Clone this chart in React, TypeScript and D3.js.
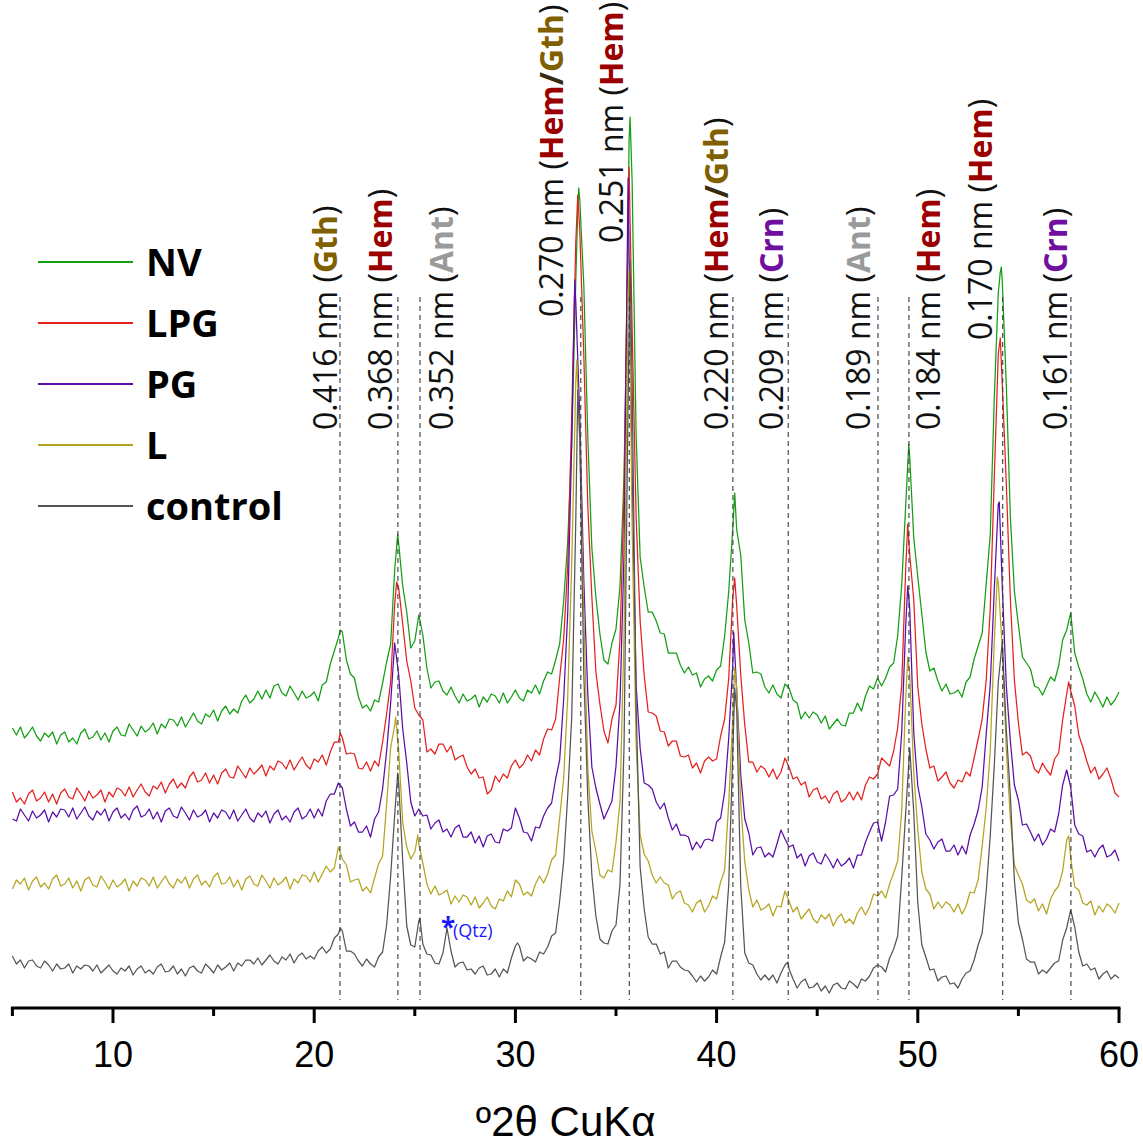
import React from "react";
import * as d3 from "d3";

const W = 1143;
const H = 1146;

// uniform 2θ grid: 5.0 … 60.0, step 0.2 (276 points)
const twoThetaStart = 5;
const twoThetaStep = 0.2;

const nvCounts = [
272,265,273,262,267,273,264,259,267,263,
268,256,265,268,258,262,256,267,271,261,
263,269,260,267,258,269,273,265,264,276,
270,264,274,268,271,277,266,276,272,281,
280,274,283,273,280,287,279,276,286,283,
290,279,289,294,286,291,287,299,305,297,
301,309,301,310,302,314,316,307,304,314,
307,300,309,302,304,308,299,315,318,336,
349,362,368,340,326,322,303,292,295,289,
300,298,317,338,356,430,456,414,388,352,
359,385,365,332,312,318,319,309,305,313,
304,297,306,299,301,305,293,303,298,306,
304,297,307,297,303,310,302,299,310,307,
315,306,319,328,326,340,356,399,458,557,
719,800,715,562,452,403,366,340,336,357,
371,414,524,757,820,565,443,413,388,388,
379,367,366,347,347,347,335,327,333,325,
327,313,321,324,319,330,334,364,408,470,
470,445,380,357,327,328,326,313,307,315,
306,302,316,312,300,297,281,288,282,288,
285,277,284,271,276,281,275,274,287,287,
297,289,304,314,311,322,314,322,333,337,
364,415,495,542,462,423,386,348,329,332,
319,309,316,306,307,310,303,318,323,341,
354,367,416,465,601,707,718,614,483,409,
375,343,337,331,314,312,305,314,323,319,
334,360,370,387,347,333,321,306,298,308,
301,293,303,295,300,308];

const lpgCounts = [
208,198,202,196,206,210,199,202,208,198,
206,196,207,211,203,201,212,206,199,209,
202,205,210,198,208,203,212,210,204,213,
203,210,216,208,204,214,211,218,207,216,
221,212,217,212,223,228,218,220,227,217,
225,216,227,231,223,222,234,228,222,232,
226,230,235,224,234,230,239,237,231,240,
230,237,243,235,231,241,238,245,235,248,
258,258,262,246,247,246,232,231,238,229,
239,234,258,286,318,396,412,376,339,319,
292,285,280,248,251,246,256,256,248,254,
240,243,245,233,226,231,222,223,206,210,
224,218,226,222,234,240,232,236,245,239,
250,245,261,271,270,281,322,361,434,584,
757,770,645,493,403,328,296,269,257,281,
295,361,507,778,674,483,379,325,288,287,
284,269,268,254,259,259,244,243,245,232,
237,227,239,243,239,241,264,281,321,401,
394,325,275,238,238,228,234,231,223,231,
221,228,242,233,221,223,215,218,203,210,
212,201,204,197,206,209,198,201,208,200,
208,200,215,223,221,226,242,238,234,249,
272,315,432,445,400,313,276,251,232,234,
219,223,228,217,212,220,218,228,224,242,
261,281,320,391,522,646,615,516,401,320,
277,245,248,244,231,227,237,230,225,241,
247,280,306,309,294,265,253,239,227,233,
221,226,232,221,207,203];

const pgCounts = [
181,179,191,185,179,189,182,185,190,178,
188,183,191,190,183,192,181,187,193,184,
180,189,185,191,179,188,192,182,186,180,
190,194,183,185,191,181,188,178,189,192,
184,182,193,187,180,190,183,185,190,178,
187,182,190,188,181,190,179,185,191,182,
178,187,183,189,177,186,190,180,184,178,
188,192,181,184,191,182,191,184,199,206,
206,217,212,191,174,178,168,168,174,163,
181,188,211,249,297,357,325,271,237,198,
184,191,184,185,171,177,180,168,171,163,
172,175,163,163,168,157,164,153,164,166,
158,157,171,169,172,192,182,168,167,159,
173,172,184,192,197,221,240,301,387,558,
699,583,419,305,233,212,196,181,190,199,
234,298,447,822,525,315,252,217,215,211,
198,191,197,182,170,176,165,165,163,150,
158,152,160,161,159,178,182,208,261,334,
308,225,181,167,145,152,153,143,147,143,
156,170,161,153,155,142,146,134,144,147,
138,136,146,140,132,141,134,137,142,132,
145,145,158,168,177,178,159,178,204,205,
211,267,375,391,267,214,193,166,160,151,
158,161,149,149,155,145,154,146,165,176,
190,213,266,315,410,496,413,314,259,215,
200,175,176,168,159,166,155,161,171,168,
186,215,230,213,175,166,164,148,150,143,
151,155,143,145,150,139];

const lCounts = [
111,120,116,122,110,119,123,113,117,111,
121,125,114,116,122,112,119,109,120,123,
115,113,124,118,111,120,113,116,121,109,
119,114,122,120,114,123,112,118,124,116,
112,121,117,123,112,121,125,115,119,113,
123,127,116,117,123,113,120,110,121,124,
116,114,125,119,112,122,115,118,123,111,
121,117,125,124,118,128,118,126,134,128,
132,153,141,135,118,120,121,109,113,107,
122,136,144,196,252,275,249,177,153,141,
148,156,137,116,106,114,105,107,110,96,
104,98,105,103,95,103,92,97,103,94,
91,101,99,109,103,120,116,105,108,104,
116,124,117,126,140,145,182,222,303,436,
618,556,387,231,169,149,125,122,130,128,
158,198,366,704,477,256,165,146,139,125,
117,123,117,115,101,107,109,97,95,88,
97,100,88,94,104,101,118,130,196,280,
312,196,138,110,93,100,90,92,96,84,
94,93,109,99,88,93,81,86,91,81,
77,85,81,86,74,82,86,77,81,76,
87,93,85,93,106,104,109,102,116,127,
139,189,302,326,227,170,128,111,106,91,
98,92,98,95,88,96,86,94,108,107,
120,154,192,249,358,418,351,250,182,135,
125,116,100,97,101,89,96,86,101,109,
114,129,160,142,113,110,97,95,99,85,
94,88,96,93,87,97];

const controlCounts = [
44,36,40,32,39,40,34,32,39,35,
29,36,31,32,36,27,34,31,35,34,
29,35,27,31,35,29,26,32,29,34,
25,31,34,27,30,26,33,36,28,29,
34,26,31,24,32,34,29,27,36,32,
27,35,30,33,37,29,37,34,40,40,
36,42,35,40,45,39,36,43,40,46,
37,44,47,41,44,41,49,53,47,51,
62,66,69,49,49,46,39,34,41,36,
33,43,48,75,124,185,217,139,74,55,
53,79,56,46,45,37,36,47,72,49,
33,37,38,30,31,26,32,34,25,26,
31,23,31,27,42,54,54,39,43,41,
38,48,46,53,64,67,99,139,204,283,
478,564,326,201,125,84,61,57,56,69,
75,116,254,597,620,296,133,91,63,56,
56,46,48,32,39,39,33,30,29,24,
18,24,19,23,30,26,43,58,114,245,
290,114,47,37,35,26,20,25,20,25,
17,27,35,31,21,12,18,21,12,13,
17,9,14,7,15,17,12,11,19,16,
12,21,19,24,32,35,33,28,42,51,
64,122,188,252,187,97,55,43,30,31,
19,23,24,16,17,12,21,27,29,40,
55,67,109,164,234,318,358,270,204,120,
77,61,41,38,38,26,30,27,32,37,
39,60,72,90,73,48,34,36,30,32,
21,26,29,21,25,22];

// finer readings at the reflection maxima [2θ, counts]
const nvPeakTops = [[21.3,370],[24.15,466],[33.1,790],[33.15,812],[35.65,860],[35.7,883],[40.9,507],[49.55,556],[54.1,728],[54.15,733]];
const lpgPeakTops = [[21.3,267],[24.1,418],[33.1,805],[35.65,833],[40.9,422],[49.5,476],[54.1,662],[57.5,318]];
const pgPeakTops = [[32.95,720],[40.85,368],[49.5,414],[54.05,498]];
const lPeakTops = [[21.25,150],[24.05,283],[25.15,165],[33.05,640],[35.65,730],[40.9,332],[49.5,343],[53.95,423],[57.5,164]];
const controlPeakTops = [[21.3,72],[24.15,227],[25.25,82],[30.1,57],[33.1,610],[35.7,740],[40.9,312],[43.55,38]];

const seriesNames = ["NV", "LPG", "PG", "L", "control"];
const seriesColors = ["#139f13", "#e3211f", "#5a0ea8", "#b3a520", "#555555"];
const seriesCounts = [nvCounts, lpgCounts, pgCounts, lCounts, controlCounts];
const seriesPeakTops = [nvPeakTops, lpgPeakTops, pgPeakTops, lPeakTops, controlPeakTops];

const xMajorTicks = [10, 20, 30, 40, 50, 60];
const xMinorTicks = [5, 15, 25, 35, 45, 55];

const reflectionD = ["0.416","0.368","0.352","0.270","0.251","0.220","0.209","0.189","0.184","0.170","0.161"];
const reflectionPhases = [["Gth"],["Hem"],["Ant"],["Hem","Gth"],["Hem"],["Hem","Gth"],["Crn"],["Ant"],["Hem"],["Hem"],["Crn"]];
const reflectionTwoTheta = [21.28,24.16,25.26,33.25,35.66,40.81,43.56,48.02,49.56,54.22,57.61];
const labelTwoTheta = [21.13,23.87,26.9,32.37,35.35,40.55,43.3,47.63,51.1,53.69,57.42];
const labelStartCounts = [570,570,570,683,757,570,570,570,570,660,570];
const phaseColors: Record<string, string> = { Gth: "#7f5f00", Hem: "#9b0000", Ant: "#9a9a9a", Crn: "#7010a0" };

const qtzTwoTheta = 26.6;

function buildSeries(counts: number[], tops: number[][]): [number, number][] {
  const pts: [number, number][] = counts.map((c, i) => [twoThetaStart + twoThetaStep * i, c]);
  tops.forEach((t) => pts.push([t[0], t[1]]));
  pts.sort((a, b) => a[0] - b[0]);
  return pts;
}

export default function App() {
  const x = d3.scaleLinear().domain([5, 60]).range([12.4, 1119]);
  const y = d3.scaleLinear().domain([0, 1000]).range([1000, 0]);
  const line = d3.line<[number, number]>().x((d) => x(d[0])).y((d) => y(d[1]));
  const axisY = 1008;

  const legendY = [262, 323, 384, 445, 506];

  return (
    <svg width={W} height={H} style={{ position: "absolute", left: 0, top: 0, background: "#fff" }}>
      <rect x={0} y={0} width={W} height={H} fill="#fff" />
      {seriesCounts.map((counts, k) => (
        <path key={seriesNames[k]} d={line(buildSeries(counts, seriesPeakTops[k])) || ""} fill="none"
          stroke={seriesColors[k]} strokeWidth={1.25} strokeLinejoin="round" />
      ))}
      {reflectionTwoTheta.map((t, i) => (
        <line key={"dl" + i} x1={x(t)} x2={x(t)} y1={y(703)} y2={y(0)} stroke="#3a3a3a" strokeWidth={1.1} strokeDasharray="5,4" />
      ))}
      {reflectionD.map((dv, i) => (
        <text key={"lb" + i} transform={`translate(${x(labelTwoTheta[i])},${y(labelStartCounts[i])}) rotate(-90)`}
          fontFamily="'Open Sans', sans-serif" fontSize={32} fill="#111">
          {`${dv} nm (`}
          {reflectionPhases[i].map((p, j) => (
            <React.Fragment key={j}>
              {j > 0 ? <tspan fontWeight="bold" fill="#3a2a10">/</tspan> : null}
              <tspan fontWeight="bold" fill={phaseColors[p]}>{p}</tspan>
            </React.Fragment>
          ))}
          {")"}
        </text>
      ))}
      <text x={x(qtzTwoTheta) - 6} y={937} fontFamily="'Open Sans', sans-serif" fontWeight="bold" fontSize={26} fill="#1a1aff">*</text>
      <text x={x(qtzTwoTheta) + 6} y={937} fontFamily="'Open Sans', sans-serif" fontSize={18} fill="#1a1aff">(Qtz)</text>

      {/* legend */}
      {seriesNames.map((n, k) => (
        <g key={"lg" + n}>
          <line x1={38} x2={133} y1={legendY[k]} y2={legendY[k]} stroke={seriesColors[k]} strokeWidth={2} />
          <text x={146} y={legendY[k] + 14} fontFamily="'Open Sans', sans-serif" fontWeight="bold" fontSize={38} fill="#000">{n}</text>
        </g>
      ))}

      {/* x axis */}
      <line x1={x(5) - 1.5} x2={x(60) + 1.5} y1={axisY} y2={axisY} stroke="#000" strokeWidth={3} />
      {xMajorTicks.map((t) => (
        <line key={"mj" + t} x1={x(t)} x2={x(t)} y1={axisY} y2={axisY + 15} stroke="#000" strokeWidth={3} />
      ))}
      {xMinorTicks.map((t) => (
        <line key={"mn" + t} x1={x(t)} x2={x(t)} y1={axisY} y2={axisY + 8} stroke="#000" strokeWidth={3} />
      ))}
      {xMajorTicks.map((t) => (
        <text key={"tl" + t} x={x(t)} y={1067} textAnchor="middle" fontFamily="'Liberation Sans', Arial, sans-serif" fontSize={36} fill="#000">{t}</text>
      ))}
      <text x={(x(5) + x(60)) / 2} y={1136} textAnchor="middle" fontFamily="'Liberation Sans', Arial, sans-serif" fontSize={42} fill="#000">º2θ CuKα</text>
    </svg>
  );
}
